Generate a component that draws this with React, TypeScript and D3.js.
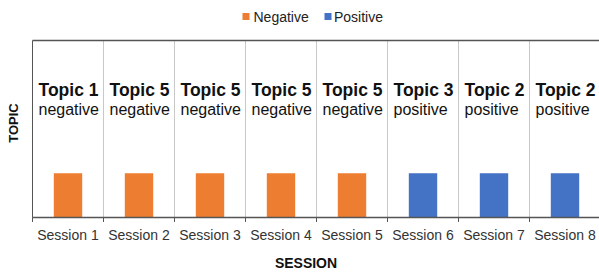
import React from "react";
import * as d3 from "d3";

const sessions = ["Session 1", "Session 2", "Session 3", "Session 4", "Session 5", "Session 6", "Session 7", "Session 8"];
const topics = ["Topic 1", "Topic 5", "Topic 5", "Topic 5", "Topic 5", "Topic 3", "Topic 2", "Topic 2"];
const sentiments = ["negative", "negative", "negative", "negative", "negative", "positive", "positive", "positive"];
const values = [1, 1, 1, 1, 1, 1, 1, 1];
const legendLabels = ["Negative", "Positive"];

const W = 599;
const H = 273;
const FONT = "'Liberation Sans', Arial, sans-serif";
const colors: Record<string, string> = { negative: "#ED7D31", positive: "#4472C4" };

export default function App() {
  const x = d3.scaleBand<string>().domain(sessions).range([32.5, 600.5]).padding(0);
  const y = d3.scaleLinear().domain([0, 4]).range([217.5, 40.5]);
  const bw = x.bandwidth();
  const barW = bw * 0.4;
  const boundaries = sessions.map((s) => x(s) as number).concat([x.range()[1]]);

  return (
    <svg width={W} height={H} style={{ position: "absolute", left: 0, top: 0 }} fontFamily={FONT}>
      <rect x={0} y={0} width={W} height={H} fill="#fff" />
      {/* legend */}
      <g>
        <rect x={242.5} y={13} width={7} height={7} fill={colors.negative} />
        <text x={253.5} y={21.5} fontSize={14} fill="#222">{legendLabels[0]}</text>
        <rect x={324.5} y={13} width={7} height={7} fill={colors.positive} />
        <text x={334} y={21.5} fontSize={14} fill="#222">{legendLabels[1]}</text>
      </g>
      {/* gridlines */}
      {boundaries.slice(1).map((b, i) => (
        <line key={"g" + i} x1={b} x2={b} y1={y(4)} y2={y(0)} stroke="#c8c8c8" strokeWidth={1} />
      ))}
      {/* top border */}
      <line x1={32.5} x2={600} y1={y(4)} y2={y(4)} stroke="#555" strokeWidth={1.5} />
      {/* left border */}
      <line x1={32.5} x2={32.5} y1={y(4)} y2={y(0)} stroke="#555" strokeWidth={1} />
      {/* bars */}
      {sessions.map((s, i) => (
        <rect
          key={"b" + i}
          x={(x(s) as number) + bw / 2 - barW / 2}
          y={y(values[i])}
          width={barW}
          height={y(0) - y(values[i])}
          fill={colors[sentiments[i]]}
        />
      ))}
      {/* annotations */}
      {sessions.map((s, i) => {
        const cx = (x(s) as number) + bw / 2;
        return (
          <g key={"t" + i}>
            <text x={cx - 29.5} y={96} fontSize={17.5} fontWeight="bold" fill="#111">{topics[i]}</text>
            <text x={cx - 29.5} y={114.5} fontSize={16} fill="#111">{sentiments[i]}</text>
          </g>
        );
      })}
      {/* x axis */}
      <line x1={32.5} x2={600} y1={y(0)} y2={y(0)} stroke="#555" strokeWidth={1.5} />
      {boundaries.map((b, i) => (
        <line key={"tk" + i} x1={b} x2={b} y1={y(0)} y2={y(0) + 4.5} stroke="#555" strokeWidth={1} />
      ))}
      {sessions.map((s, i) => (
        <text key={"l" + i} x={(x(s) as number) + bw / 2} y={240} fontSize={14} textAnchor="middle" fill="#333">{s}</text>
      ))}
      {/* axis titles */}
      <text x={306} y={268} fontSize={14} fontWeight="bold" textAnchor="middle" fill="#111">SESSION</text>
      <text transform="translate(17.5,123) rotate(-90)" fontSize={13} fontWeight="bold" textAnchor="middle" fill="#111">TOPIC</text>
    </svg>
  );
}
